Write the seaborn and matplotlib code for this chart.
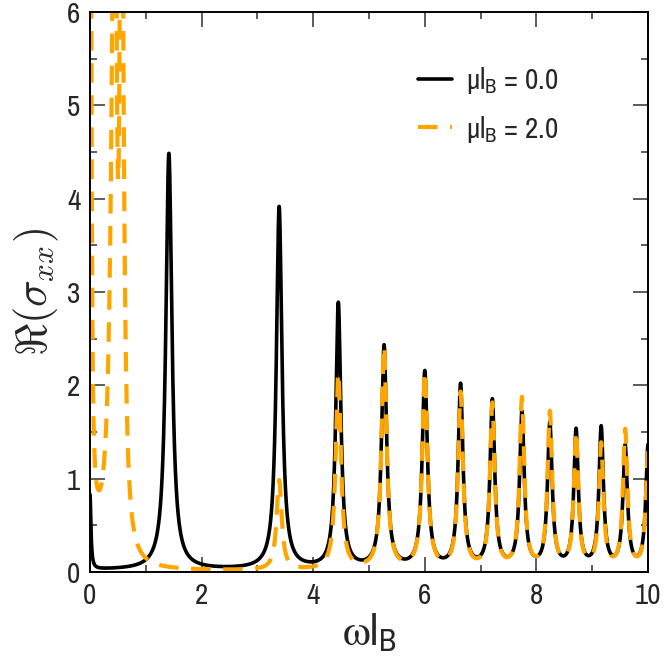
import numpy as np
import pandas as pd
import matplotlib
matplotlib.use("Agg")
import matplotlib.pyplot as plt
import seaborn as sns
from matplotlib.ticker import MultipleLocator

# Peak parameters: centre, height, left / right half width
# mu*l_B = 0.0 (black, solid)
black_pos = [0.0, 1.414, 3.39, 4.45, 5.27, 6.0, 6.64, 7.21, 7.74, 8.24, 8.71, 9.16, 9.59, 10.0]
black_height = [0.8, 4.46, 3.88, 2.84, 2.38, 2.1, 1.96, 1.79, 1.66, 1.54, 1.47, 1.5, 1.3, 1.32]
black_wl = [0.02, 0.065, 0.06, 0.055, 0.055, 0.055, 0.052, 0.05, 0.05, 0.05, 0.048, 0.048, 0.048, 0.048]
black_wr = black_wl
black_base = 0.02

# mu*l_B = 2.0 (orange, dashed)
orange_pos = [0.0, 0.0, 0.45, 0.56, 3.39, 4.45, 5.27, 6.0, 6.64, 7.21, 7.74, 8.24, 8.71, 9.16, 9.59, 10.0]
orange_height = [30, 0.35, 9, 9, 0.96, 2.1, 2.38, 2.1, 1.88, 1.76, 1.82, 1.67, 1.45, 1.33, 1.48, 1.25]
orange_wl = [0.012, 0.2, 0.065, 0.03, 0.055, 0.055, 0.055, 0.055, 0.052, 0.05, 0.05, 0.05, 0.048, 0.048, 0.048, 0.048]
orange_wr = [0.012, 0.2, 0.03, 0.045, 0.055, 0.055, 0.055, 0.055, 0.052, 0.05, 0.05, 0.05, 0.048, 0.048, 0.048, 0.048]
orange_base = 0.01

omega = np.linspace(0, 10, 4001)


def peak_sum(w, pos, height, wl, wr, base):
    y = np.full_like(w, base)
    for p, h, gl, gr in zip(pos, height, wl, wr):
        g = np.where(w < p, gl, gr)
        y += h * g**2 / ((w - p)**2 + g**2)
    return y


df_black = pd.DataFrame({"omega": omega,
                         "sigma": peak_sum(omega, black_pos, black_height, black_wl, black_wr, black_base)})
df_orange = pd.DataFrame({"omega": omega,
                          "sigma": peak_sum(omega, orange_pos, orange_height, orange_wl, orange_wr, orange_base)})

sns.set_style("ticks")
# narrow sans, close to the condensed Helvetica of the original
plt.rcParams['font.family'] = ['Archivo Narrow', 'Liberation Sans', 'DejaVu Sans']

fig, ax = plt.subplots(figsize=(6.64, 6.64), dpi=100)
fig.subplots_adjust(left=0.1355, right=0.976, bottom=0.1386, top=0.982)

sns.lineplot(data=df_black, x="omega", y="sigma", ax=ax, color="black", lw=2.6,
             errorbar=None, label=r"μl$_\mathregular{B}$ = 0.0")
sns.lineplot(data=df_orange, x="omega", y="sigma", ax=ax, color="#FFA500", lw=3.0,
             linestyle=(0, (4.7, 3.0)), errorbar=None, label=r"μl$_\mathregular{B}$ = 2.0")

ax.set_xlim(0, 10)
ax.set_ylim(0, 6)
ax.xaxis.set_major_locator(MultipleLocator(2))
ax.xaxis.set_minor_locator(MultipleLocator(1))
ax.yaxis.set_major_locator(MultipleLocator(1))
ax.yaxis.set_minor_locator(MultipleLocator(0.5))
ax.tick_params(which='both', direction='in', top=True, right=True, width=1.1,
               color='#303030', labelsize=21, pad=7)
ax.tick_params(which='major', length=10.5)
ax.tick_params(which='minor', length=5)
for s in ax.spines.values():
    s.set_linewidth(1.4)
    s.set_color('black')

ax.set_xlabel(r"$\mathrm{\omega}$l$_\mathregular{B}$", fontsize=32, labelpad=2,
              math_fontfamily='stix')
ax.set_ylabel(r"$\Re(\sigma_{xx})$", fontsize=32, math_fontfamily='cm', labelpad=4)

ax.legend(frameon=False, loc='upper left', bbox_to_anchor=(0.588, 0.905),
          borderaxespad=0, borderpad=0, handlelength=1.15, handletextpad=0.5,
          labelspacing=0.6, fontsize=21)

fig.savefig("out.png", dpi=100)
